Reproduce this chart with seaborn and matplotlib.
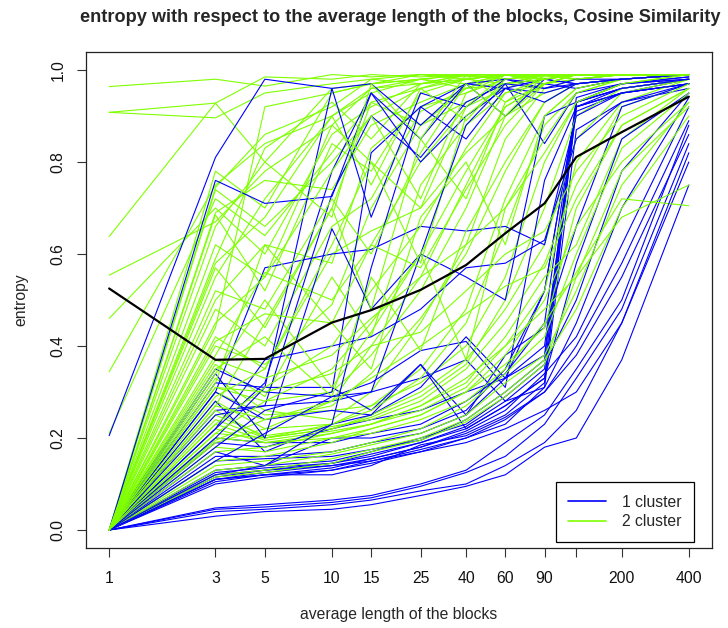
import numpy as np
import pandas as pd
import matplotlib
matplotlib.use("Agg")
import matplotlib.pyplot as plt
from matplotlib.lines import Line2D
import seaborn as sns

# average block lengths (x positions of every run)
block_lengths = [1, 3, 5, 10, 15, 25, 40, 60, 90, 125, 200, 400]
tick_labels = ["1", "3", "5", "10", "15", "25", "40", "60", "90", "", "200", "400"]

# entropy per run, 1 cluster
one_cluster = [
    [0, .030, .040, .045, .055, .075, .095, .12, .18, .20, .37, .75],
    [0, .040, .045, .055, .065, .085, .10, .14, .19, .26, .45, .80],
    [0, .045, .050, .060, .070, .095, .125, .16, .23, .33, .48, .84],
    [0, .048, .055, .065, .075, .10, .13, .19, .25, .35, .50, .88],
    [0, .10, .115, .13, .15, .17, .20, .24, .30, .38, .55, .86],
    [0, .105, .12, .135, .155, .18, .21, .25, .32, .93, .96, .98],
    [0, .11, .125, .14, .155, .18, .215, .26, .34, .42, .62, .92],
    [0, .115, .13, .145, .16, .19, .22, .27, .33, .92, .95, .97],
    [0, .12, .13, .14, .15, .175, .20, .23, .31, .45, .70, .94],
    [0, .125, .135, .145, .165, .19, .225, .28, .35, .93, .97, .98],
    [0, .13, .14, .15, .17, .20, .23, .29, .36, .50, .78, .95],
    [0, .11, .12, .12, .14, .185, .205, .245, .30, .40, .58, .89],
    [0, .15, .155, .16, .175, .195, .24, .30, .37, .93, .96, .98],
    [0, .16, .16, .17, .19, .21, .25, .33, .38, .94, .97, .985],
    [0, .17, .14, .20, .20, .22, .26, .35, .52, .92, .96, .98],
    [0, .19, .18, .22, .24, .26, .30, .33, .40, .91, .95, .97],
    [0, .20, .19, .19, .21, .23, .28, .34, .45, .93, .97, .985],
    [0, .26, .27, .28, .30, .33, .37, .28, .31, .87, .93, .96],
    [0, .30, .24, .26, .25, .31, .42, .33, .52, .92, .95, .98],
    [0, .32, .31, .31, .26, .36, .25, .38, .44, .66, .92, .97],
    [0, .35, .30, .29, .32, .39, .41, .31, .76, .92, .95, .97],
    [0, .28, .17, .23, .25, .36, .22, .27, .33, .58, .85, .95],
    [.205, .81, .98, .96, .97, .88, .97, .98, .96, .97, .98, .99],
    [0, .76, .71, .725, .95, .80, .90, .96, .95, .97, .98, .99],
    [0, .34, .20, .655, .48, .60, .55, .50, .90, .93, .96, .98],
    [0, .30, .57, .60, .61, .66, .65, .66, .62, .90, .95, .97],
    [0, .22, .37, .40, .42, .48, .57, .58, .63, .85, .93, .97],
    [0, .18, .26, .30, .82, .92, .85, .96, .98, .97, .98, .99],
    [0, .25, .27, .73, .90, .81, .93, .97, .84, .95, .97, .98],
    [0, .20, .31, .96, .68, .95, .92, .98, .97, .96, .98, .99],
    [0, .12, .14, .23, .57, .92, .97, .96, .93, .97, .98, .99],
    [0, .22, .32, .78, .95, .85, .97, .90, .98, .97, .98, .99],
    [0, .15, .21, .29, .30, .60, .88, .97, .96, .98, .98, .99],
    [0, .11, .12, .13, .145, .17, .19, .22, .26, .30, .45, .82],
]

# entropy per run, 2 cluster
two_cluster = [
    [.964, .98, .965, .99, .985, .99, .99, .99, .985, .99, .99, .99],
    [.908, .928, .985, .98, .99, .985, .99, .99, .99, .99, .99, .99],
    [.908, .896, .95, .97, .98, .99, .985, .99, .99, .99, .99, .99],
    [.638, .928, .80, .96, .97, .98, .99, .99, .99, .98, .99, .99],
    [.554, .67, .78, .88, .96, .97, .99, .98, .99, .99, .99, .99],
    [.46, .70, .60, .86, .92, .97, .98, .99, .98, .99, .99, .99],
    [.344, .75, .84, .90, .95, .98, .96, .99, .99, .98, .99, .99],
    [.21, .72, .64, .82, .93, .96, .99, .98, .99, .99, .99, .99],
    [0, .78, .70, .95, .97, .99, .98, .99, .99, .99, .99, .99],
    [0, .745, .86, .92, .98, .97, .99, .99, .99, .99, .99, .99],
    [0, .74, .66, .80, .90, .96, .98, .99, .99, .98, .99, .99],
    [0, .69, .76, .74, .88, .93, .97, .99, .98, .99, .99, .99],
    [0, .685, .52, .84, .78, .95, .98, .97, .99, .99, .99, .99],
    [0, .59, .83, .93, .85, .97, .98, .99, .99, .99, .99, .99],
    [0, .57, .44, .70, .93, .88, .96, .99, .98, .99, .99, .99],
    [0, .55, .72, .90, .96, .98, .97, .99, .99, .99, .99, .99],
    [0, .50, .62, .58, .83, .92, .95, .98, .99, .99, .99, .99],
    [0, .48, .40, .66, .72, .91, .96, .97, .99, .98, .99, .99],
    [0, .44, .92, .95, .97, .98, .99, .99, .99, .99, .99, .99],
    [0, .40, .36, .49, .70, .88, .93, .97, .98, .99, .99, .99],
    [0, .42, .35, .60, .65, .70, .82, .90, .95, .97, .98, .99],
    [0, .38, .56, .50, .62, .80, .92, .96, .99, .99, .99, .99],
    [0, .36, .29, .55, .42, .75, .88, .95, .97, .99, .99, .99],
    [0, .33, .26, .24, .30, .45, .62, .85, .96, .98, .99, .99],
    [0, .31, .28, .30, .38, .52, .70, .90, .97, .98, .99, .99],
    [0, .30, .25, .26, .27, .35, .48, .72, .90, .96, .98, .99],
    [0, .28, .22, .23, .27, .32, .40, .55, .80, .93, .97, .99],
    [0, .26, .20, .22, .25, .30, .37, .48, .62, .85, .95, .98],
    [0, .25, .205, .225, .24, .28, .35, .45, .58, .75, .92, .97],
    [0, .24, .20, .22, .245, .29, .36, .50, .70, .90, .96, .98],
    [0, .23, .195, .215, .23, .27, .32, .42, .55, .62, .85, .96],
    [0, .22, .19, .21, .23, .26, .31, .40, .52, .80, .93, .98],
    [0, .21, .20, .23, .26, .33, .45, .65, .88, .95, .98, .99],
    [0, .20, .19, .20, .22, .25, .30, .38, .50, .66, .80, .93],
    [0, .195, .24, .27, .34, .46, .60, .78, .93, .97, .98, .99],
    [0, .19, .22, .28, .40, .55, .75, .92, .97, .98, .99, .99],
    [0, .18, .17, .20, .21, .24, .28, .35, .45, .56, .72, .705],
    [0, .17, .18, .21, .23, .27, .33, .40, .48, .55, .68, .75],
    [0, .15, .16, .19, .22, .25, .30, .36, .44, .70, .88, .96],
    [0, .14, .15, .17, .19, .22, .27, .34, .42, .60, .83, .95],
    [0, .13, .14, .165, .185, .21, .25, .32, .38, .52, .75, .93],
    [0, .12, .13, .155, .175, .20, .24, .30, .37, .48, .70, .90],
    [0, .115, .125, .145, .17, .195, .235, .29, .36, .55, .78, .92],
    [0, .35, .42, .29, .55, .39, .65, .80, .93, .97, .98, .99],
    [0, .34, .50, .31, .43, .60, .37, .70, .85, .95, .98, .99],
    [0, .32, .62, .45, .35, .68, .80, .62, .90, .96, .98, .99],
    [0, .27, .45, .70, .48, .85, .72, .93, .97, .99, .99, .99],
    [0, .29, .35, .62, .80, .58, .90, .97, .98, .99, .99, .99],
    [0, .23, .31, .40, .52, .66, .83, .95, .98, .99, .99, .99],
    [0, .21, .28, .35, .45, .60, .78, .92, .97, .99, .99, .99],
    [0, .62, .55, .78, .90, .72, .95, .99, .98, .99, .99, .99],
    [0, .66, .80, .68, .97, .85, .99, .93, .99, .99, .99, .99],
    [0, .58, .68, .90, .75, .96, .89, .98, .99, .98, .99, .99],
    [0, .52, .48, .72, .60, .82, .97, .90, .99, .99, .99, .99],
    [0, .45, .55, .88, .80, .70, .92, .99, .97, .99, .99, .99],
    [0, .41, .47, .45, .62, .57, .74, .88, .97, .99, .99, .99],
    [0, .37, .33, .38, .46, .55, .62, .70, .82, .93, .97, .99],
    [0, .31, .30, .34, .40, .43, .52, .60, .65, .78, .90, .97],
    [0, .27, .24, .28, .33, .40, .47, .53, .57, .72, .88, .96],
]

# mean entropy over all runs
mean_entropy = [0.525, 0.37, 0.372, 0.451, 0.478, 0.522, 0.576, 0.645, 0.71, 0.811, 0.865, 0.942]

BLUE = "#0000FF"
GREEN = "#7FFF00"

# long table, runs of both groups interleaved so neither colour sits on top
rows = []
order = []
colors = {}
nb, ng = len(one_cluster), len(two_cluster)
seq = []
ib = ig = 0
while ib < nb or ig < ng:
    if ig < ng:
        seq.append(("2 cluster", ig, two_cluster[ig])); ig += 1
    if ib < nb:
        seq.append(("1 cluster", ib, one_cluster[ib])); ib += 1
    if ig < ng and ig % 3 == 0:
        seq.append(("2 cluster", ig, two_cluster[ig])); ig += 1
for grp, i, vals in seq:
    run = f"{grp} #{i}"
    order.append(run)
    colors[run] = BLUE if grp == "1 cluster" else GREEN
    for x, v in zip(block_lengths, vals):
        rows.append({"length": x, "entropy": v, "run": run, "group": grp})
df = pd.DataFrame(rows)
mean_df = pd.DataFrame({"length": block_lengths, "entropy": mean_entropy})

sns.set_theme(style="white")
plt.rcParams["font.family"] = ["Liberation Sans", "DejaVu Sans"]

fig = plt.figure(figsize=(7.28, 6.28), dpi=100)
W, H = 728, 628
ax = fig.add_axes([86 / W, 1 - 548.4 / H, (712 - 86) / W, (548.4 - 51.6) / H])

sns.lineplot(data=df, x="length", y="entropy", hue="run", hue_order=order,
             palette=colors, estimator=None, sort=False, legend=False,
             linewidth=0.8, ax=ax)
sns.lineplot(data=mean_df, x="length", y="entropy", color="black",
             linewidth=1.6, estimator=None, ax=ax)

ax.set_xscale("log")
ax.set_xlim(10 ** -0.104, 10 ** 2.706)
ax.set_ylim(-0.04, 1.04)
ax.set_xticks(block_lengths)
ax.set_xticklabels(tick_labels)
ax.minorticks_off()
ax.set_yticks([0.0, 0.2, 0.4, 0.6, 0.8, 1.0])
ax.set_yticklabels(["0.0", "0.2", "0.4", "0.6", "0.8", "1.0"], rotation=90, va="center")
ax.set_xlabel("")
ax.set_ylabel("")
for s in ax.spines.values():
    s.set_color("#222222")
    s.set_linewidth(0.9)
ax.tick_params(axis="both", which="major", direction="out", length=6.5, width=0.8,
               color="#333333", labelsize=11.3, labelcolor="#111111", bottom=True, left=True)
ax.tick_params(axis="x", pad=10)
ax.tick_params(axis="y", pad=8)

handles = [Line2D([], [], color=BLUE, lw=1.2), Line2D([], [], color=GREEN, lw=1.2)]
leg = ax.legend(handles, ["1 cluster", "2 cluster"], loc="lower right",
                bbox_to_anchor=(0.971, 0.013), borderaxespad=0, fancybox=False,
                edgecolor="black", framealpha=1, fontsize=11.3, handlelength=2.4,
                handletextpad=1.0, borderpad=0.8, labelspacing=0.3)
leg.get_frame().set_linewidth(0.9)

fig.text(400 / W, 1 - 17 / H, "entropy with respect to the average length of the blocks, Cosine Similarity",
         ha="center", va="center", fontsize=13.1, fontweight="bold")
fig.text(399 / W, 1 - 614 / H, "average length of the blocks", ha="center", va="center", fontsize=11.3)
fig.text(21 / W, 1 - 300 / H, "entropy", ha="center", va="center", rotation=90, fontsize=11.3)

fig.savefig("out.png", dpi=100, facecolor="white")
